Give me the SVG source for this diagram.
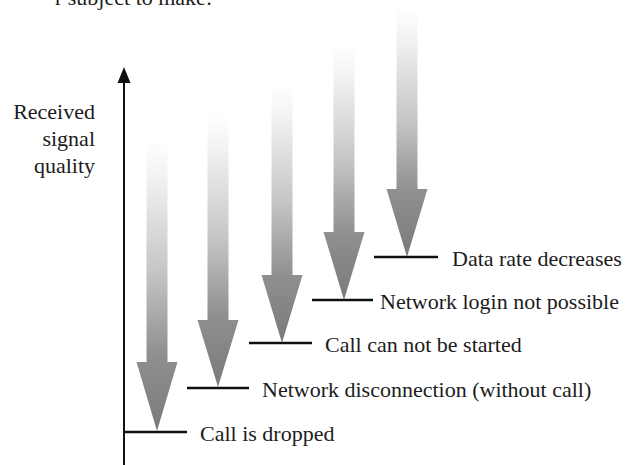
<svg xmlns="http://www.w3.org/2000/svg" width="644" height="465" viewBox="0 0 644 465">
  <style>
    .lbl { font-size: 22px; fill: #1c1c1c; }
    .tick { stroke: #111; stroke-width: 2.5; fill: none; }
    .axis { stroke: #111; stroke-width: 2; fill: none; }
    .drop { fill: url(#fade); }
  </style>
  <defs>
    <linearGradient id="fade" x1="0" y1="0" x2="0" y2="1">
      <stop offset="0" stop-color="#ffffff"/>
      <stop offset="0.12" stop-color="#f3f3f3"/>
      <stop offset="0.45" stop-color="#c6c6c6"/>
      <stop offset="0.74" stop-color="#8f8f8f"/>
      <stop offset="1" stop-color="#7a7a7a"/>
    </linearGradient>
  </defs>

  <g font-family="Liberation Serif, Times New Roman, serif">
    <!-- running text line clipped at the top edge -->
    <text class="lbl" x="212" y="5" text-anchor="end">r subject to make:</text>

    <!-- vertical axis with its arrowhead -->
    <g id="connectors">
      <line class="axis" x1="124" y1="465" x2="124" y2="80"/>
      <polygon points="124,67 130.5,83 117.5,83" fill="#111"/>
    </g>

    <!-- axis label -->
    <g id="axis-label">
      <text class="lbl" x="95" y="119" text-anchor="end">Received</text>
      <text class="lbl" x="95" y="146" text-anchor="end">signal</text>
      <text class="lbl" x="95" y="173" text-anchor="end">quality</text>
    </g>

    <!-- threshold levels, lowest first -->
    <g id="level-call-dropped">
      <polygon class="drop" points="146.5,140 167.5,140 167.5,362 177.5,362 157,431 136.5,362 146.5,362"/>
      <line class="tick" x1="124" y1="432" x2="187" y2="432"/>
      <text class="lbl" x="200" y="441">Call is dropped</text>
    </g>

    <g id="level-network-disconnection">
      <polygon class="drop" points="207.5,115 228.5,115 228.5,320 238.5,320 218,387 197.5,320 207.5,320"/>
      <line class="tick" x1="187" y1="388" x2="249" y2="388"/>
      <text class="lbl" x="262" y="397">Network disconnection (without call)</text>
    </g>

    <g id="level-call-not-started">
      <polygon class="drop" points="271.5,85 292.5,85 292.5,275 302.5,275 282,343 261.5,275 271.5,275"/>
      <line class="tick" x1="249" y1="343" x2="312" y2="343"/>
      <text class="lbl" x="325" y="352">Call can not be started</text>
    </g>

    <g id="level-login-impossible">
      <polygon class="drop" points="333.5,45 354.5,45 354.5,232 364.5,232 344,300 323.5,232 333.5,232"/>
      <line class="tick" x1="312" y1="300" x2="373" y2="300"/>
      <text class="lbl" x="380" y="309">Network login not possible</text>
    </g>

    <g id="level-data-rate">
      <polygon class="drop" points="396.5,8 417.5,8 417.5,189 427.5,189 407,257 386.5,189 396.5,189"/>
      <line class="tick" x1="374" y1="257" x2="438" y2="257"/>
      <text class="lbl" x="452" y="266">Data rate decreases</text>
    </g>
  </g>
</svg>
